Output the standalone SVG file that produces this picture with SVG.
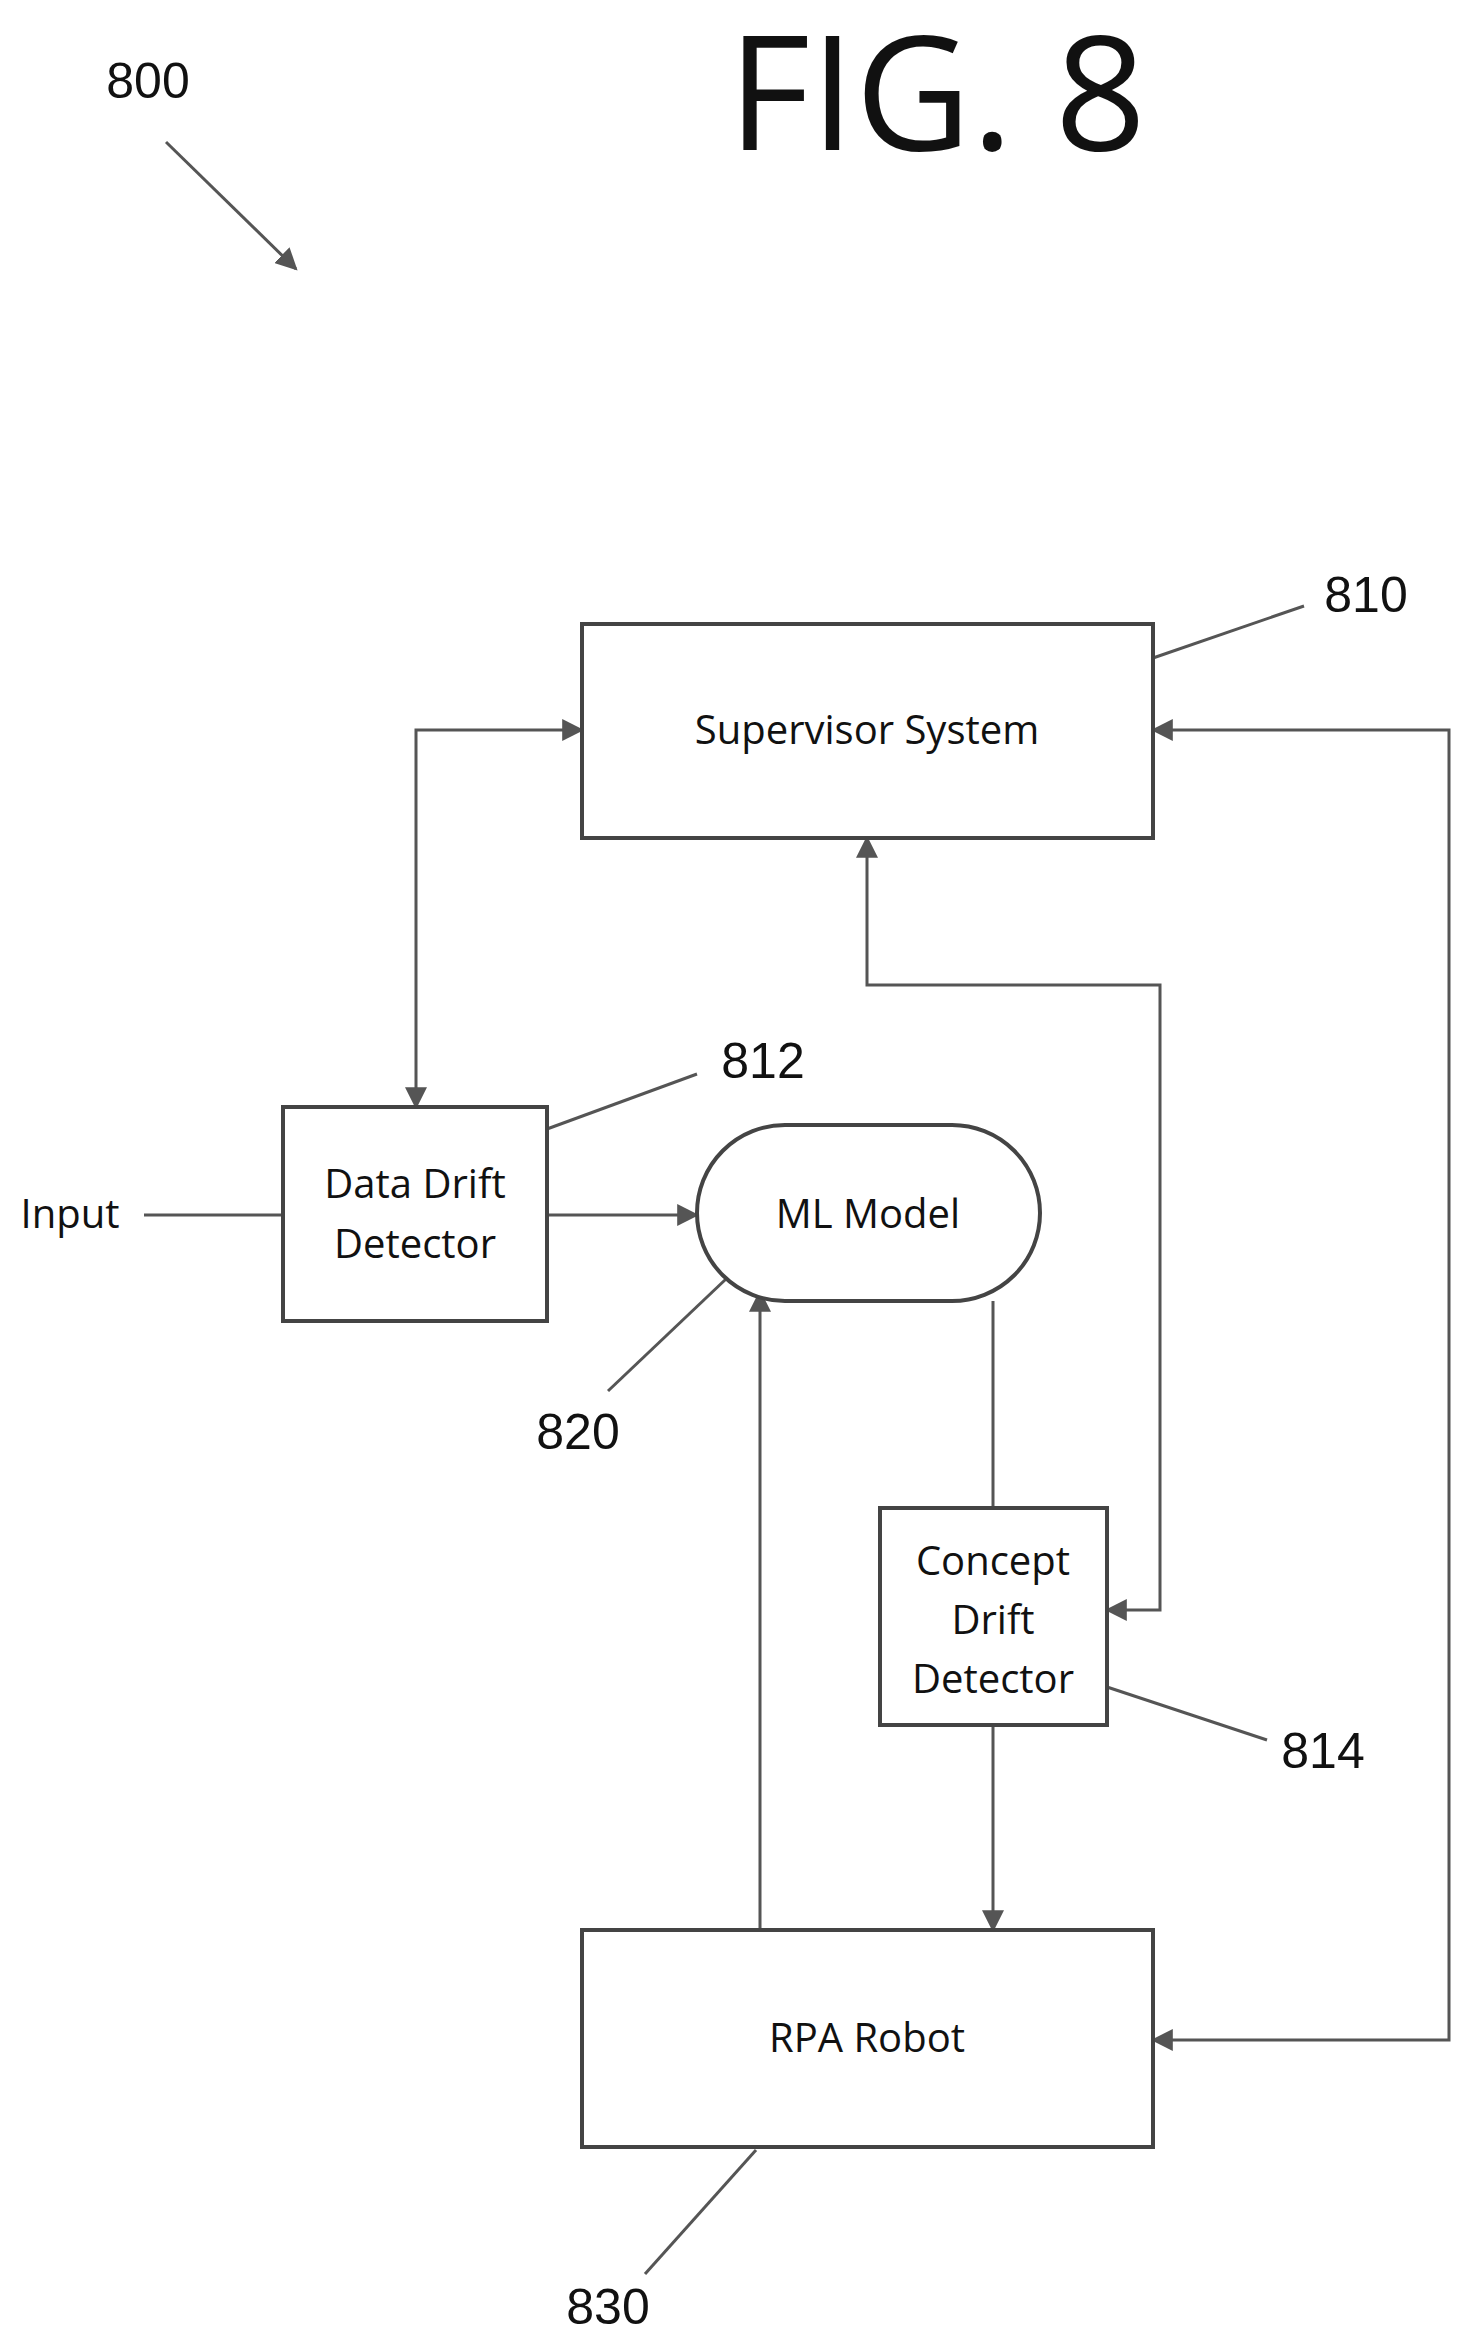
<svg xmlns="http://www.w3.org/2000/svg" width="1482" height="2338" viewBox="0 0 1482 2338">
<style>
.b{fill:#fff;stroke:#444;stroke-width:4}
.c{fill:none;stroke:#555;stroke-width:3}
.t{font-family:"Open Sans","Liberation Sans",sans-serif;font-size:40px;fill:#111;text-anchor:middle}
.n{font-family:"Liberation Sans",sans-serif;font-size:50px;fill:#111;text-anchor:middle}
</style>
<defs>
<marker id="A" viewBox="0 0 10 10" refX="9" refY="5" markerWidth="22" markerHeight="22" markerUnits="userSpaceOnUse" orient="auto-start-reverse"><path d="M0,0 L10,5 L0,10 z" fill="#555"/></marker></defs>
<text x="937" y="150" font-family="Open Sans,Liberation Sans,sans-serif" font-size="160" text-anchor="middle" fill="#111">FIG. 8</text>
<text class="n" x="148" y="98">800</text>
<g id="connectors">
<line class="c" x1="166" y1="142" x2="296" y2="269" marker-end="url(#A)"/>
<line class="c" x1="1153" y1="658" x2="1304" y2="606"/>
<line class="c" x1="547" y1="1129" x2="697" y2="1074"/>
<line class="c" x1="608" y1="1391" x2="726" y2="1279"/>
<line class="c" x1="1107" y1="1687" x2="1267" y2="1740"/>
<line class="c" x1="756" y1="2150" x2="645" y2="2274"/>
<polyline class="c" points="582,730 416,730 416,1107" marker-start="url(#A)" marker-end="url(#A)"/>
<line class="c" x1="144" y1="1215" x2="283" y2="1215"/>
<line class="c" x1="547" y1="1215" x2="697" y2="1215" marker-end="url(#A)"/>
<line class="c" x1="993" y1="1301" x2="993" y2="1508"/>
<line class="c" x1="993" y1="1725" x2="993" y2="1930" marker-end="url(#A)"/>
<line class="c" x1="760" y1="1930" x2="760" y2="1292" marker-end="url(#A)"/>
<polyline class="c" points="867,838 867,985 1160,985 1160,1610 1107,1610" marker-start="url(#A)" marker-end="url(#A)"/>
<polyline class="c" points="1153,730 1449,730 1449,2040 1153,2040" marker-start="url(#A)" marker-end="url(#A)"/>
</g>
<g id="n810"><rect class="b" x="582" y="624" width="571" height="214"/><text class="t" x="867" y="744">Supervisor System</text><text class="n" x="1366" y="612">810</text></g>
<g id="n812"><rect class="b" x="283" y="1107" width="264" height="214"/><text class="t" x="415" y="1198">Data Drift</text><text class="t" x="415" y="1258">Detector</text><text class="n" x="763" y="1078">812</text></g>
<g id="n820"><rect class="b" x="697" y="1125" width="343" height="176" rx="88"/><text class="t" x="868" y="1228">ML Model</text><text class="n" x="578" y="1449">820</text></g>
<g id="n814"><rect class="b" x="880" y="1508" width="227" height="217"/><text class="t" x="993" y="1575">Concept</text><text class="t" x="993" y="1634">Drift</text><text class="t" x="993" y="1693">Detector</text><text class="n" x="1323" y="1768">814</text></g>
<g id="n830"><rect class="b" x="582" y="1930" width="571" height="217"/><text class="t" x="867" y="2052">RPA Robot</text><text class="n" x="608" y="2324">830</text></g>
<text class="t" x="70" y="1228">Input</text>
</svg>
